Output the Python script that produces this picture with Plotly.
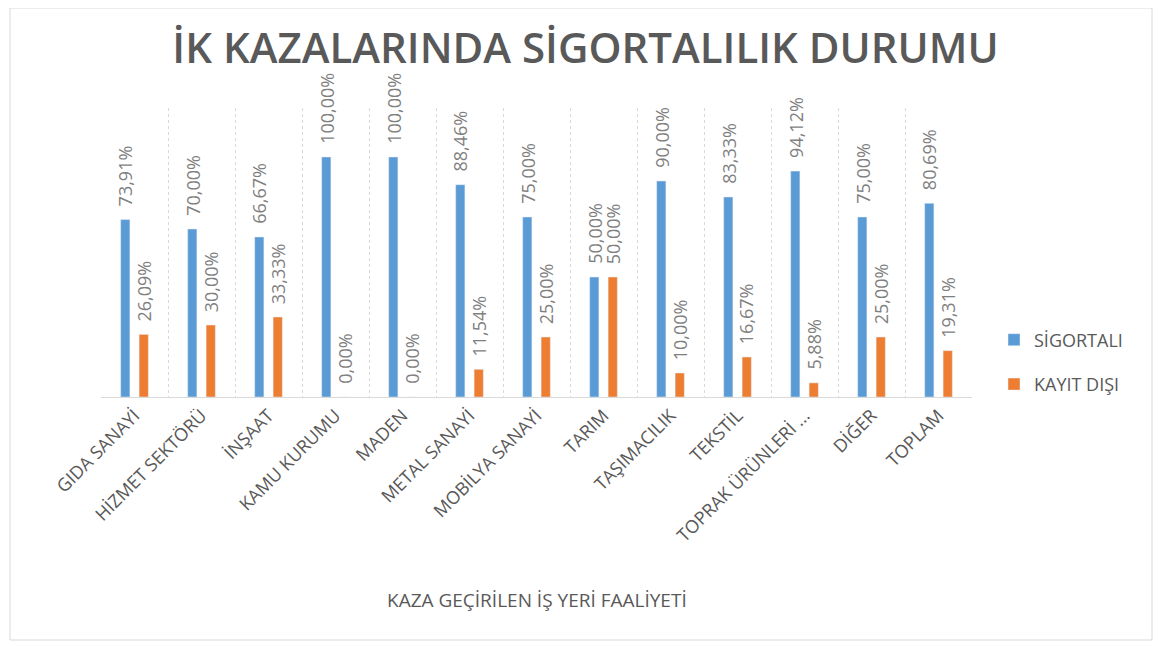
import plotly.graph_objects as go

categories = ["GIDA SANAYİ", "HİZMET SEKTÖRÜ", "İNŞAAT", "KAMU KURUMU", "MADEN",
              "METAL SANAYİ", "MOBİLYA SANAYİ", "TARIM", "TAŞIMACILIK", "TEKSTİL",
              "TOPRAK ÜRÜNLERİ ...", "DİĞER", "TOPLAM"]
sigortali = [73.91, 70.00, 66.67, 100.00, 100.00, 88.46, 75.00, 50.00, 90.00, 83.33, 94.12, 75.00, 80.69]
kayit_disi = [26.09, 30.00, 33.33, 0.00, 0.00, 11.54, 25.00, 50.00, 10.00, 16.67, 5.88, 25.00, 19.31]
series_names = ["SİGORTALI", "KAYIT DIŞI"]
series_colors = ["#5B9BD5", "#ED7D31"]


def fmt(v):
    return f"{v:.2f}".replace(".", ",") + "%"


FONT = "Open Sans"
OFF = 8  # page body margin
W, H = 1163 - OFF, 646 - OFF
L, T = 101 - OFF, 108 - OFF
plot_right, plot_bottom = 972 - OFF, 397 - OFF
R, B = W - plot_right, H - plot_bottom
pw, ph = W - L - R, H - T - B
BARGAP = 0.45
PX_PER_UNIT = 240


def px_x(x):
    return (x - OFF - L) / pw


def px_y(y):
    return (plot_bottom - (y - OFF)) / ph


fig = go.Figure()
for name, color, vals in zip(series_names, series_colors, [sigortali, kayit_disi]):
    fig.add_trace(go.Bar(
        x=categories, y=[v / 100 for v in vals], name=name,
        marker_color=color, legendgroup=name,
    ))

slot = pw / len(categories) * (1 - BARGAP) / 2
for i, vals in enumerate([sigortali, kayit_disi]):
    shift = (-0.5 + i) * slot
    for c, v in zip(categories, vals):
        fig.add_annotation(
            x=c, y=v / 100, xref="x", yref="y", text=fmt(v), textangle=-90,
            showarrow=False, xanchor="center", yanchor="bottom",
            xshift=shift, yshift=11,
            font=dict(family=FONT, size=18, color="#7F7F7F"),
        )

fig.update_layout(
    width=W, height=H,
    margin=dict(l=L, r=R, t=T, b=B),
    paper_bgcolor="white", plot_bgcolor="white",
    barmode="group", bargap=BARGAP, bargroupgap=0.5,
    font=dict(family=FONT, color="#595959"),
    title=dict(text="İK KAZALARINDA SİGORTALILIK DURUMU",
               x=0.5, xanchor="center", y=1 - (48 - OFF) / H, yanchor="middle",
               font=dict(family=FONT, size=42, color="#595959", weight=600)),
    xaxis=dict(tickangle=-45, tickson="boundaries", showgrid=True,
               gridcolor="#D9D9D9", griddash="dot", gridwidth=1,
               showline=True, linecolor="#D9D9D9", ticks="",
               tickfont=dict(family=FONT, size=18, color="#595959")),
    yaxis=dict(range=[0, ph / PX_PER_UNIT], visible=False, showgrid=False),
    legend=dict(x=px_x(994), y=px_y(362), xanchor="left", yanchor="middle",
                tracegroupgap=18, font=dict(family=FONT, size=18, color="#595959")),
    showlegend=True,
)

fig.add_annotation(text="KAZA GEÇİRİLEN İŞ YERİ FAALİYETİ", xref="paper", yref="paper",
                   x=px_x(537), y=px_y(600), xanchor="center", yanchor="middle",
                   showarrow=False, font=dict(family=FONT, size=19, color="#595959"))

fig.add_shape(type="rect", xref="paper", yref="paper",
              x0=px_x(10), x1=px_x(1152), y0=px_y(640), y1=px_y(8),
              line=dict(color="#D9D9D9", width=1), layer="below")

fig.write_html("out.html")
